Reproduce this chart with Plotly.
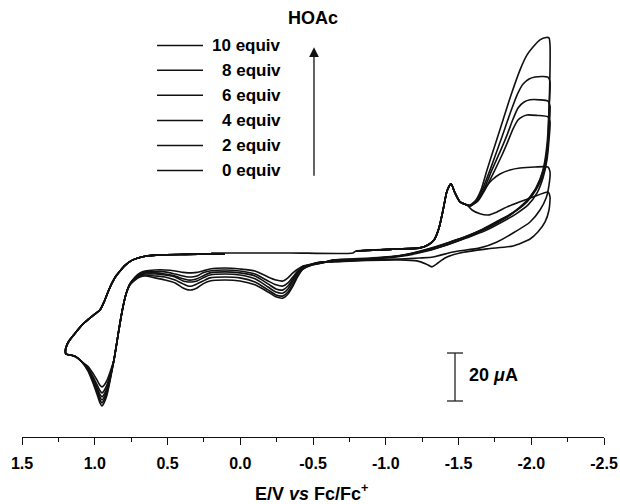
import plotly.graph_objects as go

# ---------------- data (E in V vs Fc/Fc+, I in microamps) ----------------
labels = ["0 equiv", "2 equiv", "4 equiv", "6 equiv", "8 equiv", "10 equiv"]

tick_vals = [1.5, 1.0, 0.5, 0.0, -0.5, -1.0, -1.5, -2.0, -2.5]
tick_text = ["1.5", "1.0", "0.5", "0.0", "-0.5", "-1.0", "-1.5", "-2.0", "-2.5"]
minor_vals = [1.25, 0.75, 0.25, -0.25, -0.75, -1.25, -1.75, -2.25]

# start of the 0 equiv scan
E_pre_0 = [0.200, -0.342, -0.775]
I_pre_0 = [5.0, 5.0, 5.0]

# cathodic sweep up to the -1.45 V peak (shared)
E_up = [-0.796, -1.029, -1.235, -1.290, -1.332, -1.366, -1.394, -1.421, -1.448, -1.476, -1.510, -1.558]
I_up = [5.8, 6.5, 7.1, 8.3, 10.4, 15.4, 22.9, 30.8, 33.8, 30.0, 26.3, 25.0]

# catalytic wave, switching at -2.13 V and return to -0.64 V
cat_E = {
    "10 equiv": [-1.579, -1.620, -1.655, -1.696, -1.751, -1.806, -1.861, -1.923, -1.971, -2.012, -2.060, -2.102, -2.122,
                 -2.129, -2.129, -2.122, -2.108, -2.081, -2.033, -1.958, -1.868, -1.765, -1.648, -1.510, -1.373, -1.235,
                 -1.098, -0.892, -0.637],
    "8 equiv": [-1.579, -1.627, -1.669, -1.717, -1.772, -1.820, -1.868, -1.909, -1.944, -1.985, -2.026, -2.074, -2.115,
                -2.129, -2.122, -2.115, -2.095, -2.060, -1.999, -1.916, -1.820, -1.703, -1.579, -1.442, -1.304, -1.167,
                -1.029, -0.857, -0.637],
    "6 equiv": [-1.579, -1.634, -1.682, -1.730, -1.785, -1.834, -1.875, -1.909, -1.951, -1.992, -2.060, -2.115,
                -2.129, -2.122, -2.108, -2.081, -2.033, -1.971, -1.882, -1.785, -1.669, -1.545, -1.407, -1.270, -1.132,
                -0.995, -0.823, -0.637],
    "4 equiv": [-1.579, -1.634, -1.689, -1.744, -1.799, -1.841, -1.875, -1.909, -1.937, -1.971, -2.040, -2.115,
                -2.129, -2.122, -2.108, -2.081, -2.040, -1.978, -1.896, -1.799, -1.682, -1.558, -1.421, -1.284, -1.146,
                -0.995, -0.823, -0.637],
    "2 equiv": [-1.579, -1.620, -1.655, -1.689, -1.730, -1.785, -1.854, -1.923, -2.026, -2.115,
                -2.129, -2.122, -2.102, -2.060, -1.992, -1.875, -1.765, -1.648, -1.462, -1.325, -1.235, -1.098,
                -0.871, -0.637],
    "0 equiv": [-1.593, -1.648, -1.703, -1.765, -1.834, -1.923, -2.012, -2.115,
                -2.129, -2.122, -2.095, -2.047, -1.992, -1.875, -1.696, -1.510, -1.407, -1.359, -1.318, -1.277,
                -1.215, -1.098, -0.871, -0.637],
}
cat_I = {
    "10 equiv": [25.0, 27.1, 31.3, 39.6, 50.0, 60.4, 70.8, 81.3, 87.5, 90.8, 93.8, 94.8, 94.6,
                 91.7, 81.3, 64.6, 50.0, 39.6, 32.1, 25.8, 21.3, 17.5, 13.8, 10.4, 7.5, 5.4, 3.8, 2.9, 2.1],
    "8 equiv": [24.6, 27.1, 32.1, 39.6, 48.8, 57.1, 65.4, 71.7, 75.4, 77.5, 78.3, 78.5, 78.3,
                76.3, 64.6, 52.1, 42.5, 35.4, 28.8, 23.8, 19.6, 15.8, 12.5, 9.6, 6.7, 4.6, 3.3, 2.5, 1.9],
    "6 equiv": [24.6, 27.1, 32.5, 39.6, 47.1, 54.2, 60.8, 65.4, 67.9, 68.8, 68.8, 68.3,
                66.3, 56.3, 45.8, 37.5, 31.3, 26.3, 22.1, 18.8, 15.0, 11.7, 8.8, 6.3, 4.2, 3.1, 2.3, 1.7],
    "4 equiv": [24.6, 26.7, 32.1, 38.8, 45.8, 51.7, 56.7, 60.4, 61.7, 62.5, 62.3, 61.7,
                59.6, 52.1, 43.8, 36.3, 30.0, 25.0, 21.3, 17.9, 14.2, 11.3, 8.3, 5.8, 4.0, 2.9, 2.1, 1.5],
    "2 equiv": [24.6, 26.3, 29.2, 32.5, 35.4, 37.9, 39.6, 40.4, 40.8, 40.8,
                38.8, 33.3, 27.9, 22.9, 17.9, 13.3, 9.6, 7.1, 5.4, 3.3, 2.9, 2.5, 2.1, 1.3],
    "0 equiv": [22.9, 21.3, 20.8, 22.1, 24.2, 26.3, 28.3, 30.4,
                28.3, 22.9, 17.9, 13.8, 10.8, 7.9, 6.7, 5.0, 2.9, 0.8, -0.8, 0.4, 1.7, 2.1, 1.9, 1.3],
}

# anodic return sweep, -0.56 V to 0.59 V
E_low = [-0.562, -0.493, -0.431, -0.397, -0.362, -0.328, -0.294, -0.246, -0.191, -0.101, 0.002,
         0.105, 0.208, 0.256, 0.297, 0.332, 0.359, 0.393, 0.448, 0.517, 0.586]
I_low = {
    "10 equiv": [0.8, 0.0, -1.7, -4.6, -8.8, -12.1, -13.8, -13.3, -11.3, -8.3, -6.7, -6.3, -6.7, -7.9, -9.6, -10.4, -10.4, -9.6, -7.5, -6.3, -5.4],
    "8 equiv": [0.8, 0.0, -1.7, -4.2, -7.9, -11.3, -12.9, -12.5, -10.4, -7.1, -5.4, -5.0, -5.4, -6.7, -7.9, -8.8, -8.8, -7.9, -6.3, -5.0, -4.6],
    "6 equiv": [1.0, 0.2, -1.3, -3.3, -6.7, -10.0, -11.7, -11.3, -9.2, -5.8, -4.2, -3.8, -4.2, -5.4, -6.7, -7.1, -7.1, -6.7, -5.0, -4.2, -3.8],
    "4 equiv": [1.0, 0.2, -1.3, -2.9, -5.8, -8.8, -10.4, -10.0, -7.9, -4.6, -3.3, -2.9, -3.3, -4.6, -5.8, -6.3, -6.3, -5.8, -4.6, -3.8, -3.3],
    "2 equiv": [1.3, 0.4, -0.8, -2.5, -5.0, -7.5, -8.8, -8.3, -6.7, -3.8, -2.5, -2.1, -2.5, -3.3, -4.6, -5.0, -5.0, -4.6, -3.8, -2.9, -2.9],
    "0 equiv": [1.3, 0.4, -0.4, -1.7, -3.3, -5.4, -6.7, -6.3, -5.0, -2.5, -1.7, -1.3, -1.7, -2.5, -3.1, -3.3, -3.3, -3.1, -2.5, -2.1, -2.1],
}

# oxidation wave near 0.95 V up to the 1.2 V switching point
E_ox = [0.654, 0.689, 0.723, 0.758, 0.785, 0.813, 0.840, 0.868, 0.895, 0.916, 0.936, 0.950, 0.964,
        0.985, 1.012, 1.046, 1.088, 1.129, 1.170, 1.198]
I_ox = {
    "10 equiv": [-4.6, -5.0, -6.3, -8.3, -12.1, -19.6, -29.2, -39.6, -48.3, -54.2, -57.5, -58.8, -57.5, -53.8, -49.2, -44.2, -40.4, -38.3, -37.5, -37.1],
    "8 equiv": [-4.2, -4.6, -5.8, -8.3, -12.1, -19.6, -29.2, -39.6, -47.8, -53.2, -56.3, -57.5, -56.3, -52.8, -48.5, -43.9, -40.4, -38.3, -37.5, -37.1],
    "6 equiv": [-3.8, -4.2, -5.8, -7.9, -12.1, -19.6, -29.2, -39.6, -47.2, -52.3, -55.2, -56.3, -55.2, -51.9, -47.9, -43.6, -40.4, -38.3, -37.5, -37.1],
    "4 equiv": [-3.3, -4.2, -5.4, -7.9, -12.1, -19.6, -29.2, -39.6, -46.6, -51.3, -54.0, -55.0, -54.0, -51.0, -47.3, -43.3, -40.4, -38.3, -37.5, -37.1],
    "2 equiv": [-2.9, -3.8, -5.4, -7.9, -12.1, -19.6, -29.2, -39.6, -45.9, -50.0, -52.4, -53.3, -52.4, -49.8, -46.5, -42.9, -40.4, -38.3, -37.5, -37.1],
    "0 equiv": [-2.5, -3.3, -5.0, -7.9, -12.1, -19.6, -29.2, -39.6, -44.7, -48.1, -50.1, -50.8, -50.1, -47.9, -45.2, -42.3, -40.4, -38.3, -37.5, -37.1],
}

# cathodic sweep back from 1.2 V to the end of the scan (shared)
E_ul = [1.201, 1.191, 1.177, 1.156, 1.122, 1.081, 1.040, 0.998, 0.964, 0.936, 0.909, 0.881, 0.854, 0.826,
        0.792, 0.751, 0.703, 0.634, 0.552, 0.380, 0.194, 0.105]
I_ul = [-35.4, -33.3, -31.7, -30.0, -27.5, -24.6, -22.5, -20.4, -18.8, -15.4, -11.3, -7.5, -4.6, -2.5,
        -0.2, 1.7, 2.9, 3.8, 4.2, 4.4, 4.6, 4.6]

# scale bar (20 uA)
scale_E = -1.476
scale_I0 = -56.7
scale_len = 20.0

# ---------------- figure ----------------
fig = go.Figure()
for lab in labels:
    E = (E_pre_0 if lab == "0 equiv" else []) + E_up + cat_E[lab] + E_low + E_ox + E_ul
    I = (I_pre_0 if lab == "0 equiv" else []) + I_up + cat_I[lab] + I_low[lab] + I_ox[lab] + I_ul
    fig.add_trace(go.Scatter(
        x=E, y=I, mode="lines", name=lab, showlegend=False, hoverinfo="skip",
        line=dict(color="#111111", width=1.6, shape="spline", smoothing=0.6),
    ))

FONT = "Liberation Sans"
shapes = []
annotations = []

# scale bar
cap = 0.055
shapes.append(dict(type="line", xref="x", yref="y", x0=scale_E, x1=scale_E,
                   y0=scale_I0, y1=scale_I0 + scale_len, line=dict(color="#222", width=1.3)))
for yy in (scale_I0, scale_I0 + scale_len):
    shapes.append(dict(type="line", xref="x", yref="y", x0=scale_E - cap, x1=scale_E + cap,
                       y0=yy, y1=yy, line=dict(color="#222", width=1.3)))
annotations.append(dict(xref="x", yref="y", x=scale_E - 0.082, y=scale_I0 + scale_len / 2 + 0.8,
                        text="<b>20 <i>μ</i>A</b>", showarrow=False, xanchor="left", yanchor="middle",
                        font=dict(family=FONT, size=18, color="black")))

# legend (top first: 10 equiv ... 0 equiv)
leg_y = [0.896, 0.839, 0.782, 0.724, 0.667, 0.610]
for lab, yy in zip(labels[::-1], leg_y):
    shapes.append(dict(type="line", xref="paper", yref="paper", x0=0.232, x1=0.311, y0=yy, y1=yy,
                       line=dict(color="#111", width=1.5)))
    annotations.append(dict(xref="paper", yref="paper", x=0.4485, y=yy, text="<b>%s</b>" % lab,
                            showarrow=False, xanchor="right", yanchor="middle",
                            font=dict(family=FONT, size=17, color="black")))

# HOAc arrow
annotations.append(dict(xref="paper", yref="paper", x=0.5017, y=0.892, ax=0, ay=130, text="",
                        showarrow=True, arrowhead=2, arrowsize=1.5, arrowwidth=1.3, arrowcolor="#111"))
annotations.append(dict(xref="paper", yref="paper", x=0.50, y=0.959, text="<b>HOAc</b>",
                        showarrow=False, xanchor="center", yanchor="middle",
                        font=dict(family=FONT, size=18, color="black")))

# axis title
annotations.append(dict(xref="paper", yref="paper", x=0.4966, y=-0.126,
                        text="<b>E/V <i>vs</i> Fc/Fc<sup>+</sup></b>", showarrow=False,
                        xanchor="center", yanchor="middle", font=dict(family=FONT, size=18, color="black")))

fig.update_layout(
    width=620, height=504, margin=dict(l=22, r=16, t=0, b=67),
    plot_bgcolor="white", paper_bgcolor="white", showlegend=False,
    shapes=shapes, annotations=annotations,
    xaxis=dict(range=[1.5, -2.5], tickmode="array", tickvals=tick_vals, ticktext=tick_text,
               ticks="outside", ticklen=7, tickwidth=1.3, tickcolor="#111",
               showline=True, linecolor="#111", linewidth=1.3, showgrid=False, zeroline=False,
               tickfont=dict(family=FONT, size=16, color="black", weight="bold"),
               ticklabelstandoff=5, ticklabeloverflow="allow",
               minor=dict(tickmode="array", tickvals=minor_vals, ticks="outside", ticklen=4,
                          tickwidth=1.3, tickcolor="#111", showgrid=False)),
    yaxis=dict(range=[-71.7, 110.4], visible=False),
)

# remove the browser's default 8 px page margin so the figure fills the window
fig.write_html("out.html", config={"displayModeBar": False},
               post_script="document.body.style.margin='0';")
